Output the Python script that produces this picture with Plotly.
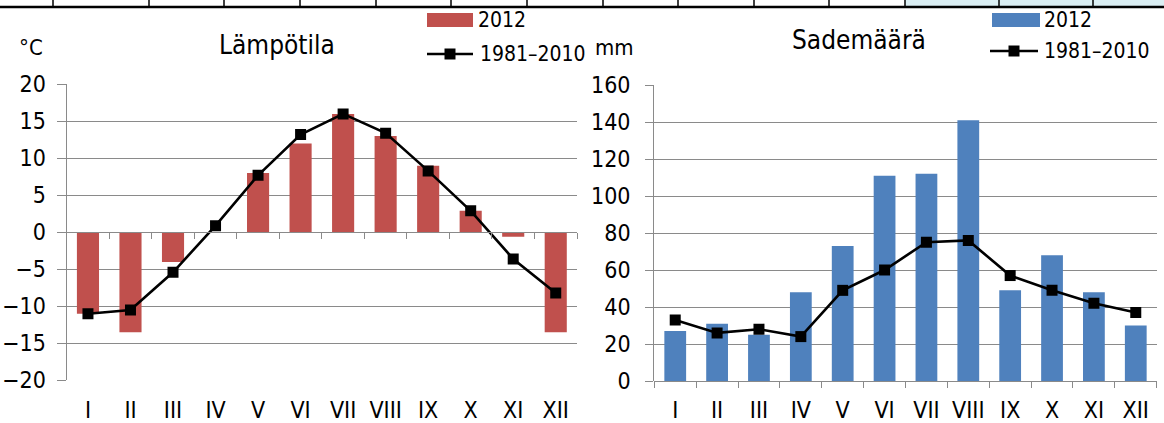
import plotly.graph_objects as go

# ---------------- data ----------------
months = ["I", "II", "III", "IV", "V", "VI", "VII", "VIII", "IX", "X", "XI", "XII"]
temp_2012 = [-11, -13.5, -4, 0, 8, 12, 16, 13, 9, 2.9, -0.6, -13.5]
temp_normal = [-11, -10.5, -5.4, 0.9, 7.7, 13.2, 16, 13.4, 8.3, 2.9, -3.6, -8.2]
rain_2012 = [27, 31, 25, 48, 73, 111, 112, 141, 49, 68, 48, 30]
rain_normal = [33, 26, 28, 24, 49, 60, 75, 76, 57, 49, 42, 37]
temp_ticks = [-20, -15, -10, -5, 0, 5, 10, 15, 20]
rain_ticks = [0, 20, 40, 60, 80, 100, 120, 140, 160]
series_names = ["2012", "1981\u20132010"]
titles = ["L\u00e4mp\u00f6tila", "Sadem\u00e4\u00e4r\u00e4"]
units = ["\u00b0C", "mm"]

# ---------------- style ----------------
W, H = 1164, 423
FONT = "DejaVu Sans Condensed, Liberation Sans Narrow, Arial Narrow, sans-serif"
RED = "#C0504D"
BLUE = "#4F81BD"
GRID = "#8A8A8A"


def px(x):
    return x / W


def py(y):
    return 1 - y / H


idx = list(range(len(months)))
bounds = [i - 0.5 for i in range(len(months) + 1)]

left_x = [px(66.7), px(577)]
left_y = [py(380.3), py(84.3)]
right_x = [px(654.3), px(1156.7)]
right_y = [py(381), py(85)]

fig = go.Figure()

# bars
fig.add_trace(go.Bar(x=idx, y=temp_2012, marker=dict(color=RED, line=dict(width=0)),
                     xaxis="x", yaxis="y", showlegend=False, name=series_names[0]))
fig.add_trace(go.Bar(x=idx, y=rain_2012, marker=dict(color=BLUE, line=dict(width=0)),
                     xaxis="x2", yaxis="y2", showlegend=False, name=series_names[0]))
# lines
line_style = dict(color="black", width=2.6)
marker_style = dict(symbol="square", size=11, color="black")
fig.add_trace(go.Scatter(x=idx, y=temp_normal, mode="lines+markers", line=line_style,
                         marker=marker_style, xaxis="x", yaxis="y", showlegend=False,
                         name=series_names[1]))
fig.add_trace(go.Scatter(x=idx, y=rain_normal, mode="lines+markers", line=line_style,
                         marker=marker_style, xaxis="x2", yaxis="y2", showlegend=False,
                         name=series_names[1]))
# invisible helpers so the tick-mark axes are drawn
fig.add_trace(go.Scatter(x=[0], y=[0], mode="markers", marker=dict(opacity=0),
                         xaxis="x3", yaxis="y", showlegend=False, hoverinfo="skip"))
fig.add_trace(go.Scatter(x=[0], y=[0], mode="markers", marker=dict(opacity=0),
                         xaxis="x4", yaxis="y2", showlegend=False, hoverinfo="skip"))

tick_font = dict(family=FONT, size=23, color="black")


def xcat(tlen):
    return dict(range=[-0.5, len(months) - 0.5], tickmode="array", tickvals=idx,
                ticktext=months, ticks="outside", ticklen=tlen,
                tickcolor="rgba(0,0,0,0)", showgrid=False, zeroline=False,
                showline=False, tickfont=tick_font, fixedrange=True, automargin=False)


def tick_axis(overlay, ydom, yr):
    pos = ydom[0] + (0 - yr[0]) / (yr[1] - yr[0]) * (ydom[1] - ydom[0])
    return dict(overlaying=overlay, anchor="free", position=pos,
                range=[-0.5, len(months) - 0.5], tickmode="array", tickvals=bounds,
                ticks="outside", ticklen=6, tickwidth=1.3, tickcolor=GRID,
                showticklabels=False, showline=True, linecolor=GRID, linewidth=1.3,
                showgrid=False, zeroline=False, automargin=False, fixedrange=True)


yl_range = [temp_ticks[0], temp_ticks[-1]]
yr_range = [rain_ticks[0], rain_ticks[-1]]

ybase = dict(showgrid=True, gridcolor=GRID, gridwidth=1.3, zeroline=False,
             showline=True, linecolor=GRID, linewidth=1.3, ticks="outside",
             tickcolor=GRID, tickwidth=1.3, tickfont=tick_font, fixedrange=True,
             automargin=False)

fig.update_layout(
    width=W, height=H,
    autosize=False,
    margin=dict(l=0, r=0, t=0, b=0, pad=0, autoexpand=False),
    paper_bgcolor="white", plot_bgcolor="white",
    bargap=0.48,
    font=dict(family=FONT, color="black"),
    xaxis=dict(domain=left_x, anchor="y", **xcat(9)),
    xaxis2=dict(domain=right_x, anchor="y2", **xcat(8)),
    xaxis3=dict(domain=left_x, **tick_axis("x", left_y, yl_range)),
    xaxis4=dict(domain=right_x, **tick_axis("x2", right_y, yr_range)),
    yaxis=dict(domain=left_y, anchor="x", range=yl_range, tickvals=temp_ticks,
               ticklen=9, ticklabelstandoff=6, **ybase),
    yaxis2=dict(domain=right_y, anchor="x2", range=yr_range, tickvals=rain_ticks,
                ticklen=8, ticklabelstandoff=10, **ybase),
)

# ---------------- titles & units ----------------
ann = []
ann.append(dict(text=titles[0], x=px(277), y=py(45), font=dict(size=26)))
ann.append(dict(text=titles[1], x=px(859), y=py(40), font=dict(size=26)))
ann.append(dict(text=units[0], x=px(31), y=py(48), font=dict(size=22)))
ann.append(dict(text=units[1], x=px(614), y=py(47), font=dict(size=22)))

# ---------------- manual legends ----------------
shapes = []
legends = [
    dict(color=RED, rx0=427, rx1=473, ry=20, tx=476, ly=54, lx0=427, lx1=473, lt=478),
    dict(color=BLUE, rx0=992, rx1=1040, ry=20, tx=1042, ly=51, lx0=990, lx1=1038, lt=1042),
]
for lg in legends:
    shapes.append(dict(type="rect", xref="paper", yref="paper",
                       x0=px(lg["rx0"]), x1=px(lg["rx1"]),
                       y0=py(lg["ry"] + 7), y1=py(lg["ry"] - 7),
                       fillcolor=lg["color"], line=dict(width=0)))
    shapes.append(dict(type="line", xref="paper", yref="paper",
                       x0=px(lg["lx0"]), x1=px(lg["lx1"]), y0=py(lg["ly"]), y1=py(lg["ly"]),
                       line=dict(color="black", width=2.6)))
    cx = (lg["lx0"] + lg["lx1"]) / 2
    shapes.append(dict(type="rect", xref="paper", yref="paper",
                       x0=px(cx - 5.5), x1=px(cx + 5.5),
                       y0=py(lg["ly"] + 5.5), y1=py(lg["ly"] - 5.5),
                       fillcolor="black", line=dict(width=0)))
    ann.append(dict(text=series_names[0], x=px(lg["tx"]), y=py(lg["ry"]),
                    xanchor="left", font=dict(size=21)))
    ann.append(dict(text=series_names[1], x=px(lg["lt"]), y=py(lg["ly"]),
                    xanchor="left", font=dict(size=21)))

# ---------------- remnant table strip at top ----------------
shapes.append(dict(type="rect", xref="paper", yref="paper", x0=px(905), x1=1,
                   y0=py(6), y1=1, fillcolor="#DAEEF3", line=dict(width=0), layer="below"))
for xv in [53, 149, 224, 300, 376, 451, 527, 603, 678, 754, 829, 905, 999, 1093]:
    shapes.append(dict(type="line", xref="paper", yref="paper", x0=px(xv), x1=px(xv),
                       y0=py(7), y1=1, line=dict(color="black", width=1.5)))
shapes.append(dict(type="line", xref="paper", yref="paper", x0=0, x1=1,
                   y0=py(7), y1=py(7), line=dict(color="black", width=2.5)))

for a in ann:
    a.setdefault("xref", "paper")
    a.setdefault("yref", "paper")
    a.setdefault("showarrow", False)
    a.setdefault("xanchor", "center")
    a.setdefault("yanchor", "middle")
    a["font"] = dict(family=FONT, color="black", **a["font"])

fig.update_layout(annotations=ann, shapes=shapes)

fig.write_html("out.html", config=dict(displayModeBar=False, responsive=False),
               post_script="document.body.style.margin='0';document.body.style.padding='0';")
